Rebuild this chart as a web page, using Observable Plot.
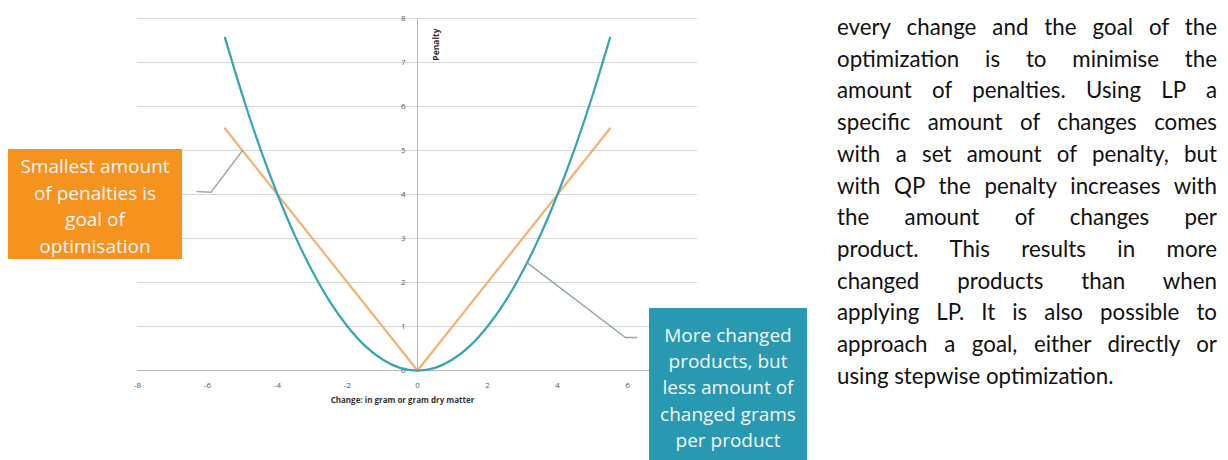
<!DOCTYPE html>
<html>
<head>
<meta charset="utf-8">
<script src="https://cdn.jsdelivr.net/npm/d3@7"></script>
<script src="https://cdn.jsdelivr.net/npm/@observablehq/plot@0.6"></script>
<style>
  html, body { margin: 0; padding: 0; background: #fff; }
  #page { position: relative; width: 1228px; height: 460px; overflow: hidden; background: #fff; }
  #chart { position: absolute; left: 0; top: 0; }
  .callout { position: absolute; box-sizing: border-box; color: #f6f6f6; font-family: "Open Sans", sans-serif;
             font-size: 19px; text-align: center; white-space: nowrap; }
  .orange { left: 8px; top: 149px; width: 174px; height: 110px; background: #f6921e; line-height: 26.5px; padding-top: 4px; }
  .teal { left: 649px; top: 308px; width: 158px; height: 160px; background: #2899b1; line-height: 26.2px; padding-top: 14px; }
  #para { position: absolute; left: 837px; top: 11px; width: 380px; font-family: Lato, sans-serif; font-size: 22.3px;
          line-height: 31.7px; color: #111; }
  #para div { text-align: justify; text-align-last: justify; white-space: nowrap; }
  #para div.last { text-align-last: left; }
</style>
</head>
<body>
<div id="page">
  <div id="chart"></div>
  <div class="callout orange">Smallest amount<br>of penalties is<br>goal of<br>optimisation</div>
  <div class="callout teal">More changed<br>products, but<br>less amount of<br>changed grams<br>per product</div>
  <div id="para"></div>
</div>
<script>
// ---- data ----
// visible x tick labels (the 8 label is hidden under the callout in the reference)
const xTicks = [-8, -6, -4, -2, 0, 2, 4, 6];
const yTicks = [0, 1, 2, 3, 4, 5, 6, 7, 8];

// QP penalty curve
const qpChange  = [-5.5, -5, -4.5, -4, -3.5, -3, -2.5, -2, -1.5, -1, -0.5, 0, 0.5, 1, 1.5, 2, 2.5, 3, 3.5, 4, 4.5, 5, 5.5];
const qpPenalty = [7.56, 6.25, 5.06, 4.0, 3.06, 2.25, 1.56, 1.0, 0.56, 0.25, 0.06, 0, 0.06, 0.25, 0.56, 1.0, 1.56, 2.25, 3.06, 4.0, 5.06, 6.25, 7.56];

// LP penalty line
const lpChange  = [-5.5, 0, 5.5];
const lpPenalty = [5.5, 0, 5.5];

// callout leader anchors (data units)
const leaderLPx = [-6.3, -5.9, -5.0];
const leaderLPy = [4.07, 4.05, 5.0];
const leaderQPx = [6.26, 5.94, 3.13];
const leaderQPy = [0.75, 0.75, 2.45];

const xTitle = "Change: in gram or gram dry matter";
const yTitle = "Penalty";

const paragraph = [
  "every change and the goal of the",
  "optimization is to minimise the",
  "amount of penalties. Using LP a",
  "specific amount of changes comes",
  "with a set amount of penalty, but",
  "with QP the penalty increases with",
  "the amount of changes per",
  "product. This results in more",
  "changed products than when",
  "applying LP. It is also possible to",
  "approach a goal, either directly or",
  "using stepwise optimization."
];

// ---- build ----
const qp = qpChange.map((x, i) => ({x, y: qpPenalty[i]}));
const lp = lpChange.map((x, i) => ({x, y: lpPenalty[i]}));
const leadLP = leaderLPx.map((x, i) => ({x, y: leaderLPy[i]}));
const leadQP = leaderQPx.map((x, i) => ({x, y: leaderQPy[i]}));

const teal = "#38a6b1";
const orange = "#f5b372";
const tickFill = "#595959";

const chart = Plot.plot({
  width: 780,
  height: 460,
  marginLeft: 137,
  marginRight: 83,
  marginTop: 18,
  marginBottom: 90,
  x: {domain: [-8, 8], axis: null},
  y: {domain: [0, 8], axis: null},
  style: {fontFamily: "'Open Sans', sans-serif", background: "transparent", overflow: "visible"},
  marks: [
    Plot.ruleY(yTicks.filter(d => d > 0), {stroke: "#d6d6d6", strokeWidth: 1}),
    Plot.ruleY([0], {stroke: "#b8b8b8", strokeWidth: 1}),
    Plot.ruleX([0], {y1: 0, y2: 8, stroke: "#b8b8b8", strokeWidth: 1}),
    Plot.text(xTicks, {x: d => d, y: 0, dy: 15, fontSize: 8, fill: tickFill, text: d => String(d)}),
    Plot.text(yTicks, {x: 0, y: d => d, dx: -12, textAnchor: "end", fontSize: 8, fill: tickFill, text: d => String(d)}),
    Plot.line(lp, {x: "x", y: "y", stroke: orange, strokeWidth: 2.25}),
    Plot.line(qp, {x: "x", y: "y", curve: "natural", stroke: teal, strokeWidth: 2.25}),
    Plot.line(leadLP, {x: "x", y: "y", stroke: "#a8a8a8", strokeWidth: 1.5}),
    Plot.line(leadQP, {x: "x", y: "y", stroke: "#8fa8a8", strokeWidth: 1.5}),
    Plot.text([xTitle], {frameAnchor: "bottom", dx: -15, dy: 32, fontSize: 8, fontWeight: "bold", fill: "#333"}),
    Plot.text([yTitle], {x: 0, frameAnchor: "top", dx: 15, dy: 10, rotate: -90, textAnchor: "end", fontSize: 8.5, fontWeight: "bold", fill: "#333"})
  ]
});
document.getElementById("chart").appendChild(chart);

const para = document.getElementById("para");
paragraph.forEach((line, i) => {
  const d = document.createElement("div");
  d.textContent = line;
  if (i === paragraph.length - 1) d.className = "last";
  para.appendChild(d);
});
</script>
</body>
</html>
